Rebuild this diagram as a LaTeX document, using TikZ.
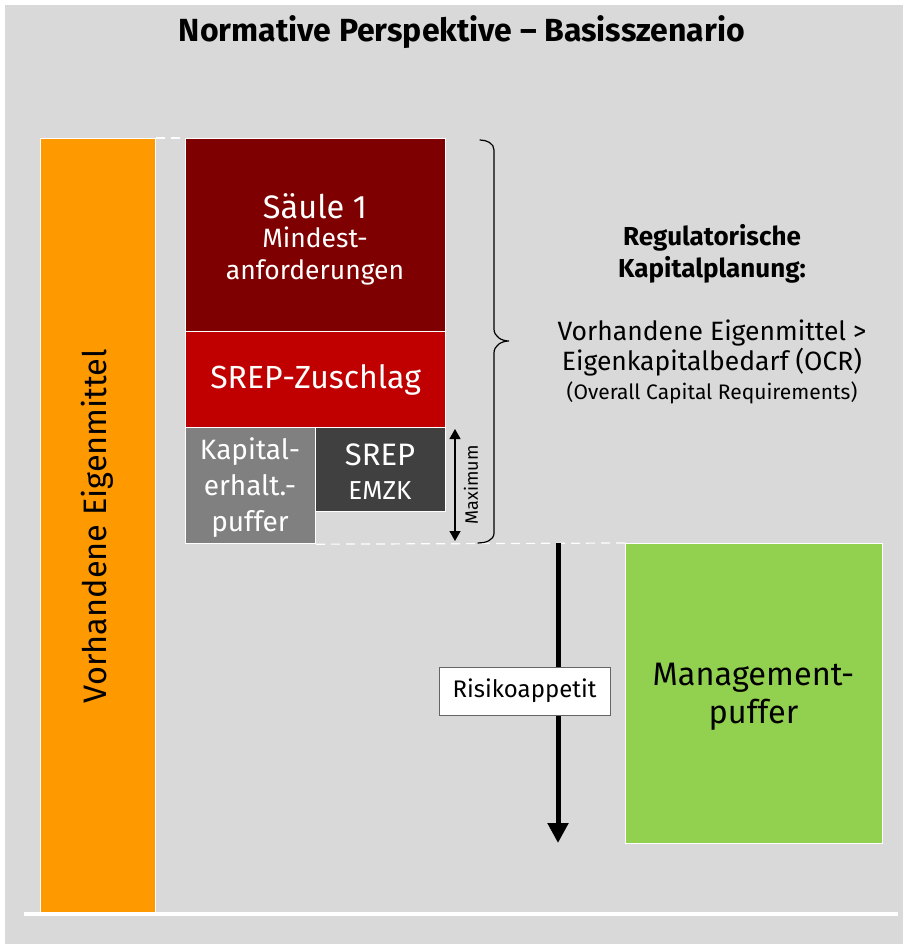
\documentclass[tikz,border=0pt]{standalone}
\usepackage{fontspec}
\setmainfont{Fira Sans}
\usetikzlibrary{arrows.meta}
\definecolor{bggray}{HTML}{D9D9D9}
\definecolor{pillar}{HTML}{7F0000}
\definecolor{srep}{HTML}{C00000}
\definecolor{buffer}{HTML}{808080}
\definecolor{emzk}{HTML}{404040}
\definecolor{own}{HTML}{FF9900}
\definecolor{mgmt}{HTML}{92D050}
\newcommand{\setfs}[2]{\fontsize{#1}{#2}\selectfont}
\tikzset{
  block/.style={draw=white, line width=1.2pt, anchor=north west, inner sep=0pt,
                align=center, text=white},
  guide/.style={draw=white, line width=1.2pt, dash pattern=on 9pt off 6pt},
  label/.style={align=center, inner sep=0pt}
}
\begin{document}
\begin{tikzpicture}[x=1pt, y=-1pt]
  \useasboundingbox (0,0) rectangle (903,944);
  % canvas
  \fill[bggray] (5,5) rectangle (903,944);
  \node[label, font=\bfseries\setfs{32}{36}] (title) at (462,32) {Normative Perspektive -- Basisszenario};

  % available own funds
  \node[block, fill=own, text=black, minimum width=115, minimum height=775] (own) at (40,138) {};
  \node[label, rotate=90, font=\setfs{32.5}{36}] (ownlbl) at (97,526) {Vorhandene Eigenmittel};
  \draw[white, line width=4pt] (24,914) coordinate (base0) -- (898,914) coordinate (base1);

  % capital stack
  \node[block, fill=pillar, minimum width=260, minimum height=193] (s1) at (185,138) {};
  \node[label, text=white, font=\setfs{26.5}{32}] (s1lbl) at (315,239)
    {\setfs{32.5}{36}Säule 1\\[-3pt]\setfs{26.5}{32}Mindest-\\anforderungen};
  \node[block, fill=srep, minimum width=260, minimum height=96, font=\setfs{32}{36}] (sz) at (185,331)
    {SREP-Zuschlag};
  \node[block, fill=buffer, minimum width=130, minimum height=116] (kep) at (185,427) {};
  \node[label, text=white, font=\setfs{28}{36}] (keplbl) at (250,488) {Kapital-\\erhalt.-\\puffer};
  \node[block, fill=emzk, minimum width=130, minimum height=84] (emzk) at (315,427) {};
  \node[label, text=white, font=\setfs{26}{34}] (emzklbl) at (380,472)
    {\setfs{31}{34}SREP\\\setfs{26}{34}EMZK};

  % dashed level guides
  \draw[guide] (own.north east) -- (s1.north west);
  \draw[guide] (kep.south east) -- (625,543) coordinate (mg);

  % maximum span
  \coordinate (maxtop) at (455,429);
  \coordinate (maxbot) at (455,541);
  \draw[line width=1.3pt, {Triangle[width=11pt,length=10pt]}-{Triangle[width=11pt,length=10pt]}] (maxtop) -- (maxbot);
  \node[label, rotate=90, font=\setfs{18}{20}] (maxlbl) at (471,485) {Maximum};

  % curly brace
  \draw[line width=1.2pt, line cap=round]
    (480,140) to[out=0, in=90] (494,150) -- (494,329)
    to[out=-90, in=180] (509,341) coordinate (tip)
    to[out=180, in=90] (494,353) -- (494,533)
    to[out=-90, in=0] (478,543);

  \node[label, font=\bfseries\setfs{26}{32}] (reg) at (712,254) {Regulatorische\\Kapitalplanung:};
  \node[label, font=\setfs{26.5}{30}] (ocr) at (712,348) {Vorhandene Eigenmittel >\\Eigenkapitalbedarf (OCR)};
  \node[label, font=\setfs{21}{24}] (ocrsub) at (712,393) {(Overall Capital Requirements)};

  % management buffer
  \node[block, fill=mgmt, minimum width=257, minimum height=300] (mb) at (625,543) {};
  \node[label, font=\setfs{32.5}{38}] (mblbl) at (753.5,697) {Management-\\puffer};

  % risk appetite
  \coordinate (ratop) at (558,543);
  \coordinate (rabot) at (558,843);
  \draw[line width=5pt, -{Triangle[width=20pt,length=20pt]}] (ratop) -- (rabot);
  \node[draw={rgb,255:red,100;green,100;blue,100}, line width=1pt, fill=white, minimum width=171,
        minimum height=48, inner sep=0pt, font=\setfs{24}{28}] (ra) at (524.5,691) {Risikoappetit};
\end{tikzpicture}
\end{document}
